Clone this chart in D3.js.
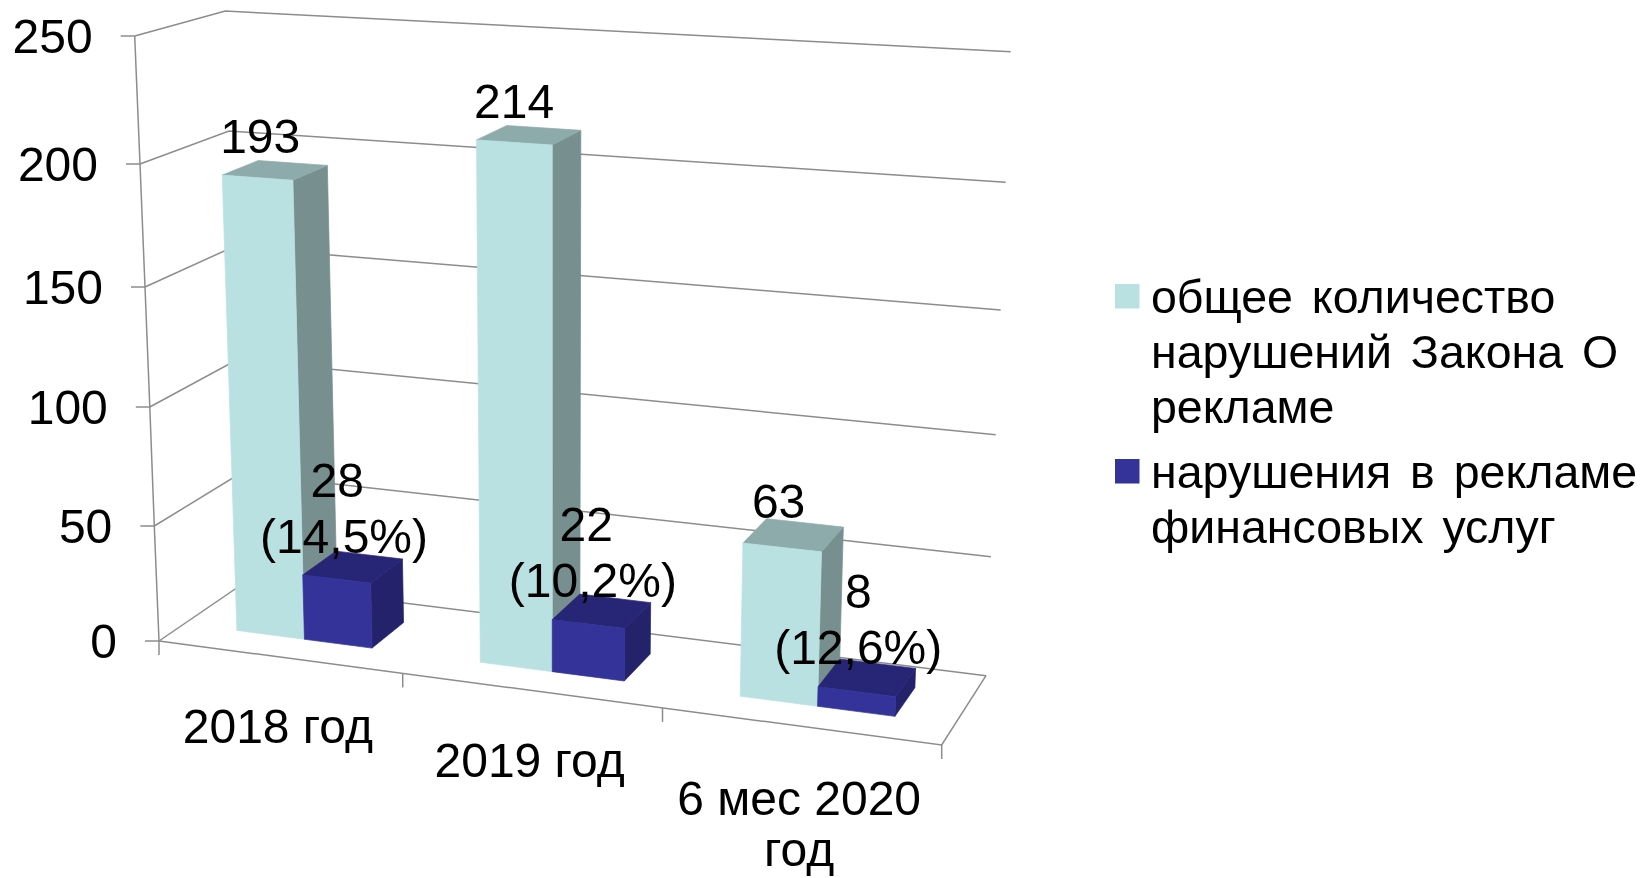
<!DOCTYPE html>
<html><head><meta charset="utf-8">
<script src="https://cdnjs.cloudflare.com/ajax/libs/d3/7.8.5/d3.min.js"></script>
<style>html,body{margin:0;padding:0;background:#fff;overflow:hidden}text{font-family:"Liberation Sans",Arial,sans-serif;fill:#000}svg{filter:blur(0.5px)}</style>
</head><body><svg id="c" width="1641" height="878"></svg>
<script>
const categories = ["2018 год", "2019 год", "6 мес 2020 год"];
const categoryLines = [["2018 год"], ["2019 год"], ["6 мес 2020", "год"]];
const seriesNames = ["общее количество нарушений Закона О рекламе", "нарушения в рекламе финансовых услуг"];
const legendLines = [["общее количество", "нарушений Закона О", "рекламе"], ["нарушения в рекламе", "финансовых услуг"]];
const totalValues = [193, 214, 63];
const financeValues = [28, 22, 8];
const financeCountLabels = ["28\u00a0", "22\u00a0", "8"];
const financeShareLabels = ["(14,5%)", "(10,2%)", "(12,6%)"];
const valueTicks = [0, 50, 100, 150, 200, 250];

// Projection frame of the pseudo-3D box: screen position of each box edge per axis level
const level = r => d3.scaleLinear().domain(valueTicks).range(r);
const FLx = level([159,154.3,149.8,145,140,134.7]), FLy = level([641,526,407,287,164,36]);
const FRx = level([941.7,946.3,951.1,956,961,966.1]), FRy = level([745,619.5,489.7,358.8,224.6,85]);
const BLx = level([244,240,236.5,233,229,225.3]), BLy = level([583,473.5,360,247,131,11]);
const BRx = level([986,991,995.7,1000.7,1005.7,1010.7]), BRy = level([675.7,556.7,434.7,310,182.3,51.7]);
// category axis position (0..3) -> fraction along the front edge (foreshortened)
const uScale = d3.scaleLinear().domain([0,1,2,3]).range([0,0.3114,0.6433,1]);
const seriesBand = d3.scaleBand().domain([0,1]).range([0,1]).paddingInner(0).paddingOuter(0.776);
const dFront = 0.30, dBack = 0.72;
function P(u,d,v){
  const t = uScale(u);
  const fx = FLx(v)+(FRx(v)-FLx(v))*t, fy = FLy(v)+(FRy(v)-FLy(v))*t;
  const bx = BLx(v)+(BRx(v)-BLx(v))*t, by = BLy(v)+(BRy(v)-BLy(v))*t;
  return [fx+(bx-fx)*d, fy+(by-fy)*d];
}
const svg = d3.select("#c");
const line = pts => "M"+pts.map(p=>p.map(n=>n.toFixed(2)).join(",")).join("L");
const gridColor = "#8c8c8c", gw = 1.5, fontSize = 48;

// walls + gridlines
const grid = svg.append("g").attr("fill","none").attr("stroke",gridColor).attr("stroke-width",gw);
valueTicks.forEach(v=>{
  grid.append("path").attr("d",line([[FLx(v),FLy(v)],[BLx(v),BLy(v)],[BRx(v),BRy(v)]]));
  grid.append("path").attr("d",line([[FLx(v)-14,FLy(v)],[FLx(v),FLy(v)]]));
});
grid.append("path").attr("d",line(valueTicks.map(v=>[FLx(v),FLy(v)])));
grid.append("path").attr("d",line([[FLx(0),FLy(0)],[FRx(0),FRy(0)],[BRx(0),BRy(0)]]));
[0,1,2,3].forEach(u=>{const p=P(u,0,0);grid.append("path").attr("d",line([p,[p[0],p[1]+14]]));});

// tick labels
svg.append("g").selectAll("text").data(valueTicks).join("text")
  .attr("x",v=>FLx(v)-42).attr("y",v=>FLy(v)+16.5).attr("text-anchor","end")
  .attr("font-size",fontSize).text(d=>d);

// bars
const colours = [
 {front:"#bae1e2",top:"#8eabac",side:"#788f90"},
 {front:"#333399",top:"#272575",side:"#24226b"}
];
function bar(i,s,val){
  const u0=i+seriesBand(s), u1=u0+seriesBand.bandwidth(), c=colours[s];
  const g=svg.append("g").attr("class","bar").attr("stroke-width",0.7);
  g.append("path").attr("fill",c.side).attr("stroke",c.side).attr("d",line([P(u1,dFront,val),P(u1,dBack,val),P(u1,dBack,0),P(u1,dFront,0)])+"Z");
  g.append("path").attr("fill",c.top).attr("stroke",c.top).attr("d",line([P(u0,dFront,val),P(u1,dFront,val),P(u1,dBack,val),P(u0,dBack,val)])+"Z");
  g.append("path").attr("fill",c.front).attr("stroke",c.front).attr("d",line([P(u0,dFront,val),P(u1,dFront,val),P(u1,dFront,0),P(u0,dFront,0)])+"Z");
}
categories.forEach((_,i)=>{bar(i,0,totalValues[i]);bar(i,1,financeValues[i]);});

// data labels
function topCentre(i,s,val){
  const u=i+seriesBand(s)+seriesBand.bandwidth()/2;
  return P(u,(dFront+dBack)/2,val);
}
const labels=svg.append("g").attr("font-size",fontSize).attr("text-anchor","middle");
totalValues.forEach((v,i)=>{
  const p=topCentre(i,0,v);
  labels.append("text").attr("x",p[0]-15).attr("y",p[1]-17.5).text(v);
});
financeValues.forEach((v,i)=>{
  const p=topCentre(i,1,v);
  labels.append("text").attr("x",p[0]-9).attr("y",p[1]-70).text(financeCountLabels[i]);
  labels.append("text").attr("x",p[0]-9).attr("y",p[1]-14).text(financeShareLabels[i]);
});

// category labels
categoryLines.forEach((ls,i)=>{
  const p=P(i+0.5,0,0);
  const shift=(ls.length-1)*3;
  ls.forEach((t,k)=>svg.append("text").attr("x",p[0]-3).attr("y",p[1]+86+shift+k*51).attr("text-anchor","middle").attr("font-size",fontSize).text(t));
});

// legend
const legendY=[284,459];
const legend=svg.append("g");
seriesNames.forEach((name,s)=>{
  legend.append("rect").attr("x",1115).attr("y",legendY[s]).attr("width",24.5).attr("height",24.5).attr("fill",colours[s].front);
  legendLines[s].forEach((t,k)=>legend.append("text").attr("x",1151).attr("y",legendY[s]+29+k*55)
    .attr("font-size",46.5).attr("word-spacing",6).text(t));
});
</script></body></html>
